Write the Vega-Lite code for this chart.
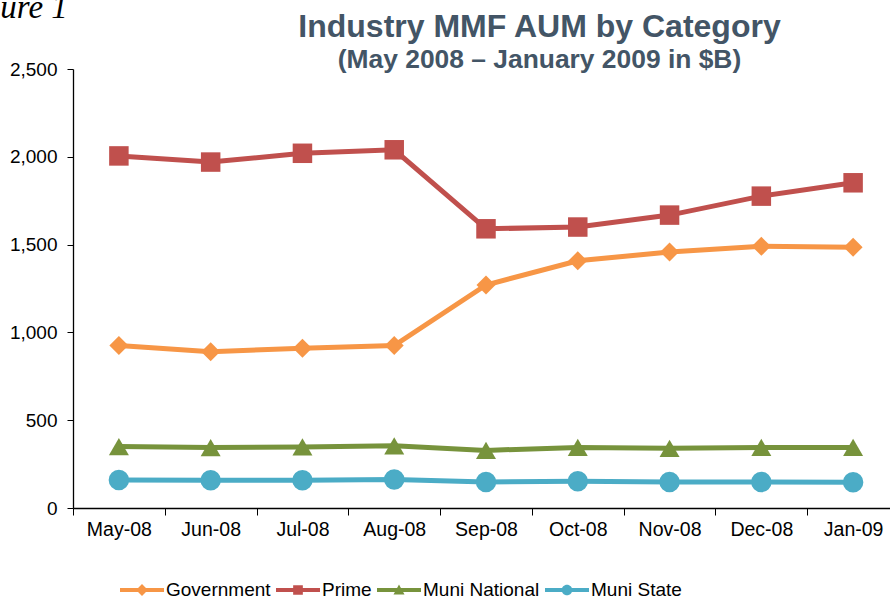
{
  "$schema": "https://vega.github.io/schema/vega-lite/v6.json",
  "autosize": {"type": "none"},
  "padding": {"left": 73, "top": 69, "right": 0, "bottom": 89},
  "width": 817,
  "height": 439,
  "background": "white",
  "config": {
    "view": {"stroke": null},
    "font": "Liberation Sans"
  },
  "title": {
    "text": "Industry MMF AUM by Category",
    "subtitle": "(May 2008 – January 2009 in $B)",
    "anchor": "middle",
    "frame": "group",
    "dx": 58,
    "offset": -83,
    "font": "Liberation Sans",
    "fontSize": 32,
    "fontWeight": "bold",
    "color": "#435566",
    "subtitleFont": "Liberation Sans",
    "subtitleFontSize": 26.4,
    "subtitleFontWeight": "bold",
    "subtitleColor": "#435566",
    "subtitlePadding": 3
  },
  "data": {
    "values": [
      {"month": "May-08", "series": "Government", "value": 925},
      {"month": "Jun-08", "series": "Government", "value": 890},
      {"month": "Jul-08", "series": "Government", "value": 910},
      {"month": "Aug-08", "series": "Government", "value": 925},
      {"month": "Sep-08", "series": "Government", "value": 1270},
      {"month": "Oct-08", "series": "Government", "value": 1408},
      {"month": "Nov-08", "series": "Government", "value": 1458},
      {"month": "Dec-08", "series": "Government", "value": 1490},
      {"month": "Jan-09", "series": "Government", "value": 1485},
      {"month": "May-08", "series": "Prime", "value": 2005},
      {"month": "Jun-08", "series": "Prime", "value": 1970},
      {"month": "Jul-08", "series": "Prime", "value": 2020},
      {"month": "Aug-08", "series": "Prime", "value": 2040},
      {"month": "Sep-08", "series": "Prime", "value": 1590},
      {"month": "Oct-08", "series": "Prime", "value": 1600},
      {"month": "Nov-08", "series": "Prime", "value": 1668},
      {"month": "Dec-08", "series": "Prime", "value": 1776},
      {"month": "Jan-09", "series": "Prime", "value": 1852},
      {"month": "May-08", "series": "Muni National", "value": 350},
      {"month": "Jun-08", "series": "Muni National", "value": 344},
      {"month": "Jul-08", "series": "Muni National", "value": 348},
      {"month": "Aug-08", "series": "Muni National", "value": 354},
      {"month": "Sep-08", "series": "Muni National", "value": 328},
      {"month": "Oct-08", "series": "Muni National", "value": 345},
      {"month": "Nov-08", "series": "Muni National", "value": 340},
      {"month": "Dec-08", "series": "Muni National", "value": 345},
      {"month": "Jan-09", "series": "Muni National", "value": 345},
      {"month": "May-08", "series": "Muni State", "value": 160},
      {"month": "Jun-08", "series": "Muni State", "value": 158},
      {"month": "Jul-08", "series": "Muni State", "value": 158},
      {"month": "Aug-08", "series": "Muni State", "value": 163},
      {"month": "Sep-08", "series": "Muni State", "value": 148},
      {"month": "Oct-08", "series": "Muni State", "value": 152},
      {"month": "Nov-08", "series": "Muni State", "value": 148},
      {"month": "Dec-08", "series": "Muni State", "value": 148},
      {"month": "Jan-09", "series": "Muni State", "value": 146}
    ]
  },
  "encoding": {
    "x": {
      "field": "month",
      "type": "ordinal",
      "sort": ["May-08", "Jun-08", "Jul-08", "Aug-08", "Sep-08", "Oct-08", "Nov-08", "Dec-08", "Jan-09"],
      "scale": {"type": "band", "range": [0, 826], "paddingInner": 0, "paddingOuter": 0},
      "axis": {
        "title": null,
        "labelAngle": 0,
        "labelFont": "Liberation Sans",
        "labelFontSize": 19.5,
        "labelColor": "#000000",
        "labelPadding": 5,
        "tickBand": "extent",
        "tickSize": 7,
        "tickColor": "#000000",
        "domainColor": "#000000",
        "domainWidth": 1.3,
        "tickWidth": 1,
        "grid": false
      }
    },
    "y": {
      "field": "value",
      "type": "quantitative",
      "scale": {"domain": [0, 2500], "nice": false, "zero": true},
      "axis": {
        "title": "Figure 1",
        "titleAngle": 0,
        "titleAlign": "left",
        "titleBaseline": "alphabetic",
        "titleX": -119,
        "titleY": -52,
        "titleFont": "Liberation Serif",
        "titleFontStyle": "italic",
        "titleFontWeight": "normal",
        "titleFontSize": 33,
        "titleColor": "#000000",
        "values": [0, 500, 1000, 1500, 2000, 2500],
        "format": ",.0f",
        "labelFont": "Liberation Sans",
        "labelFontSize": 19,
        "labelColor": "#000000",
        "labelPadding": 10,
        "tickSize": 6,
        "tickColor": "#000000",
        "domainColor": "#000000",
        "domainWidth": 1.3,
        "grid": false
      }
    }
  },
  "layer": [
    {
      "mark": {"type": "line", "strokeWidth": 5},
      "encoding": {
        "color": {
          "field": "series",
          "type": "nominal",
          "scale": {"domain": ["Government", "Prime", "Muni National", "Muni State"], "range": ["#F79646", "#C0504D", "#77933C", "#4BACC6"]},
          "legend": null
        }
      }
    },
    {
      "mark": {"type": "point", "filled": true, "opacity": 1},
      "encoding": {
        "color": {
          "field": "series",
          "type": "nominal",
          "scale": {"domain": ["Government", "Prime", "Muni National", "Muni State"], "range": ["#F79646", "#C0504D", "#77933C", "#4BACC6"]},
          "legend": null
        },
        "shape": {
          "field": "series",
          "type": "nominal",
          "scale": {"domain": ["Government", "Prime", "Muni National", "Muni State"], "range": ["diamond", "square", "triangle-up", "circle"]},
          "legend": null
        },
        "size": {
          "field": "series",
          "type": "nominal",
          "scale": {"domain": ["Government", "Prime", "Muni National", "Muni State"], "range": [360, 420, 450, 420]},
          "legend": null
        }
      }
    },
    {
      "mark": {"type": "point", "filled": true, "opacity": 0},
      "encoding": {
        "color": {
          "field": "series",
          "type": "nominal",
          "scale": {"domain": ["Government", "Prime", "Muni National", "Muni State"], "range": ["#F79646", "#C0504D", "#77933C", "#4BACC6"]},
          "legend": {
            "title": null,
            "orient": "none",
            "legendX": 47,
            "legendY": 499,
            "direction": "horizontal",
            "columns": 4,
            "columnPadding": 5,
            "labelOffset": 2,
            "labelFont": "Liberation Sans",
            "labelFontSize": 19,
            "labelColor": "#000000",
            "symbolSize": 1936,
            "symbolOpacity": 1,
            "symbolStrokeWidth": 0,
            "encode": {"symbols": {"update": {"opacity": {"value": 1}, "fillOpacity": {"value": 1}}}}
          }
        },
        "shape": {
          "field": "series",
          "type": "nominal",
          "scale": {
            "domain": ["Government", "Prime", "Muni National", "Muni State"],
            "range": [
              "M-1,-0.09H1V0.09H-1Z M0,-0.27L0.27,0L0,0.27L-0.27,0Z",
              "M-1,-0.09H1V0.09H-1Z M-0.22,-0.22H0.22V0.22H-0.22Z",
              "M-1,-0.09H1V0.09H-1Z M0,-0.25L0.25,0.2H-0.25Z",
              "M-1,-0.09H1V0.09H-1Z M0.24,0A0.24,0.24 0 1,1 -0.24,0A0.24,0.24 0 1,1 0.24,0Z"
            ]
          },
          "legend": {
            "title": null,
            "orient": "none",
            "legendX": 47,
            "legendY": 499,
            "direction": "horizontal",
            "columns": 4,
            "columnPadding": 5,
            "labelOffset": 2,
            "labelFont": "Liberation Sans",
            "labelFontSize": 19,
            "labelColor": "#000000",
            "symbolSize": 1936,
            "symbolOpacity": 1,
            "symbolStrokeWidth": 0,
            "encode": {"symbols": {"update": {"opacity": {"value": 1}, "fillOpacity": {"value": 1}}}}
          }
        }
      }
    }
  ],
  "resolve": {
    "scale": {"color": "independent", "shape": "independent", "size": "independent"},
    "legend": {"color": "independent", "shape": "independent", "size": "independent"}
  }
}
